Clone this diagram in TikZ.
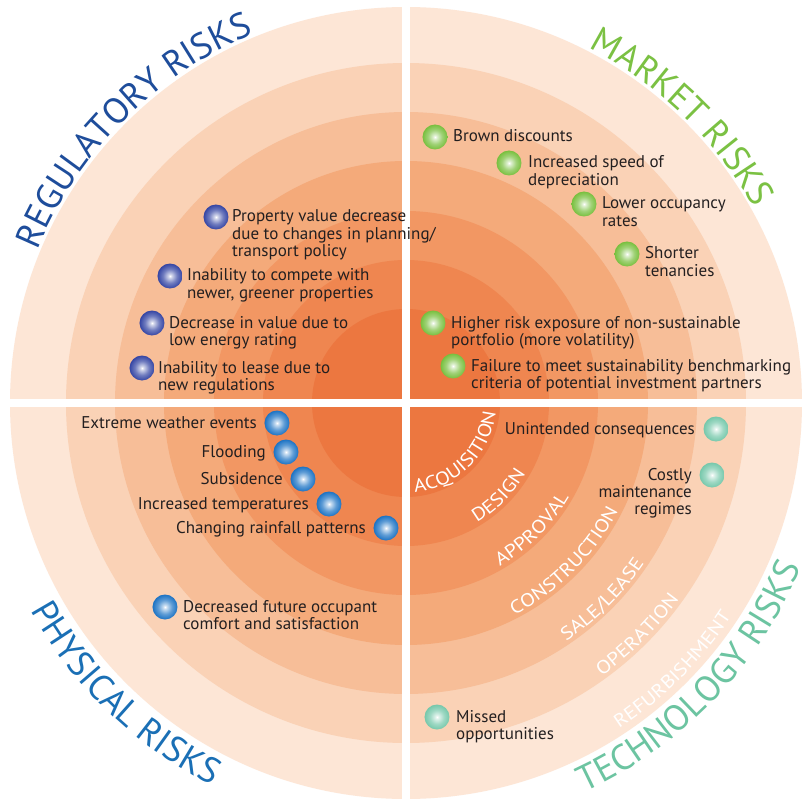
\documentclass[tikz,border=0pt]{standalone}
\usepackage{fontspec}
\setmainfont{PT Sans}
\newfontfamily\titlefont{PT Sans}
\newfontfamily\stagefont{PT Sans}[FakeStretch=1.15]
\usetikzlibrary{decorations.text}

\definecolor{ringA}{HTML}{EC7740}
\definecolor{ringB}{HTML}{EF8650}
\definecolor{ringC}{HTML}{F29763}
\definecolor{ringD}{HTML}{F4AA7A}
\definecolor{ringE}{HTML}{F7BE98}
\definecolor{ringF}{HTML}{FAD2B6}
\definecolor{ringG}{HTML}{FDE6D6}
\definecolor{regC}{HTML}{3445A4}
\definecolor{phyC}{HTML}{1C73C4}
\definecolor{mktC}{HTML}{78BF3E}
\definecolor{tecC}{HTML}{76C8AB}
\definecolor{regT}{HTML}{1E4D9B}
\definecolor{phyT}{HTML}{1A6FB5}
\definecolor{mktT}{HTML}{7BC143}
\definecolor{tecT}{HTML}{6CC4A1}
\definecolor{txtc}{HTML}{231F20}

\pgfdeclareradialshading{regball}{\pgfpoint{0bp}{0bp}}{color(0bp)=(white); color(4bp)=(regC!25!white); color(14bp)=(regC!70!white); color(25bp)=(regC); color(50bp)=(regC)}
\pgfdeclareradialshading{phyball}{\pgfpoint{0bp}{0bp}}{color(0bp)=(white); color(4bp)=(phyC!25!white); color(14bp)=(phyC!70!white); color(25bp)=(phyC); color(50bp)=(phyC)}
\pgfdeclareradialshading{mktball}{\pgfpoint{0bp}{0bp}}{color(0bp)=(white); color(4bp)=(mktC!25!white); color(14bp)=(mktC!70!white); color(25bp)=(mktC); color(50bp)=(mktC)}
\pgfdeclareradialshading{tecball}{\pgfpoint{0bp}{0bp}}{color(0bp)=(white); color(4bp)=(tecC!25!white); color(14bp)=(tecC!70!white); color(25bp)=(tecC); color(50bp)=(tecC)}

\newcommand{\mlL}[1]{\begin{tabular}[t]{@{}l@{}}#1\end{tabular}}
\newcommand{\mlR}[1]{\begin{tabular}[t]{@{}r@{}}#1\end{tabular}}

\tikzset{
  ballnode/.style={circle, minimum size=25pt, inner sep=0pt, shade, shading=#1},
  txt/.style={font=\fontsize{17}{17.4}\selectfont, text=txtc, inner sep=0pt},
  titlearc/.style 2 args={decorate, decoration={text along path, text align=center, text color=#1,
     text={|\titlefont\fontsize{36}{36}\selectfont|#2}}},
  stagearc/.style={decorate, decoration={text along path, text align=center, text color=white,
     text={|\stagefont\fontsize{18.5}{18.5}\selectfont|#1}}}
}

\begin{document}
\begin{tikzpicture}[x=1pt,y=1pt]
\useasboundingbox (-406,-398) rectangle (403,403);
\fill[white] (-406,-398) rectangle (403,403);

% rings
\fill[ringG] (0,0) circle (396);
\fill[ringF] (0,0) circle (340);
\fill[ringE] (0,0) circle (291);
\fill[ringD] (0,0) circle (242);
\fill[ringC] (0,0) circle (192);
\fill[ringB] (0,0) circle (143);
\fill[ringA] (0,0) circle (94);

% white cross
\fill[white] (-4,-400) rectangle (4,400);
\fill[white] (-400,-4) rectangle (400,4);

% titles
\path[titlearc={regT}{REGULATORY RISKS}] (175:399) arc[start angle=175, end angle=95, radius=399];
\path[titlearc={mktT}{MARKET RISKS}] (86:399) arc[start angle=86, end angle=6, radius=399];
\path[titlearc={phyT}{PHYSICAL RISKS}] (186:429) arc[start angle=186, end angle=266, radius=429];
\path[titlearc={tecT}{TECHNOLOGY RISKS}] (-84:428) arc[start angle=-84, end angle=-4, radius=428];

% stage labels
\path[stagearc={ACQUISITION}] (-135:90) arc[start angle=-135, end angle=45, radius=90];
\path[stagearc={DESIGN}] (-135:139) arc[start angle=-135, end angle=45, radius=139];
\path[stagearc={APPROVAL}] (-135:188) arc[start angle=-135, end angle=45, radius=188];
\path[stagearc={CONSTRUCTION}] (-135:238) arc[start angle=-135, end angle=45, radius=238];
\path[stagearc={SALE/LEASE}] (-135:287) arc[start angle=-135, end angle=45, radius=287];
\path[stagearc={OPERATION}] (-135:336) arc[start angle=-135, end angle=45, radius=336];
\path[stagearc={REFURBISHMENT}] (-135:389) arc[start angle=-135, end angle=45, radius=389];

% regulatory risks
\node[ballnode=regball] (r1) at (-190,186) {};
\node[txt, anchor=base west] (rt1) at (-174,181) {\mlL{Property value decrease\\due to changes in planning/\\transport policy}};
\node[ballnode=regball] (r2) at (-236,127) {};
\node[txt, anchor=base west] (rt2) at (-219,122) {\mlL{Inability to compete with\\newer, greener properties}};
\node[ballnode=regball] (r3) at (-254,80) {};
\node[txt, anchor=base west] (rt3) at (-237,75) {\mlL{Decrease in value due to\\low energy rating}};
\node[ballnode=regball] (r4) at (-264,35) {};
\node[txt, anchor=base west] (rt4) at (-248,30) {\mlL{Inability to lease due to\\new regulations}};

% market risks
\node[ballnode=mktball] (m1) at (29,266) {};
\node[txt, anchor=base west] (mt1) at (47,261) {\mlL{Brown discounts}};
\node[ballnode=mktball] (m2) at (103,240) {};
\node[txt, anchor=base west] (mt2) at (122,235) {\mlL{Increased speed of\\depreciation}};
\node[ballnode=mktball] (m3) at (178,199) {};
\node[txt, anchor=base west] (mt3) at (196,194) {\mlL{Lower occupancy\\rates}};
\node[ballnode=mktball] (m4) at (221,149) {};
\node[txt, anchor=base west] (mt4) at (239,144) {\mlL{Shorter\\tenancies}};
\node[ballnode=mktball] (m5) at (27,80) {};
\node[txt, anchor=base west] (mt5) at (45,75) {\mlL{Higher risk exposure of non-sustainable\\portfolio (more volatility)}};
\node[ballnode=mktball] (m6) at (47,37) {};
\node[txt, anchor=base west] (mt6) at (65,32) {\mlL{Failure to meet sustainability benchmarking\\criteria of potential investment partners}};

% physical risks
\node[ballnode=phyball] (p1) at (-129,-20) {};
\node[txt, anchor=base east] (pt1) at (-149,-25) {\mlR{Extreme weather events}};
\node[ballnode=phyball] (p2) at (-120,-49) {};
\node[txt, anchor=base east] (pt2) at (-140,-54) {\mlR{Flooding}};
\node[ballnode=phyball] (p3) at (-103,-76) {};
\node[txt, anchor=base east] (pt3) at (-123,-81) {\mlR{Subsidence}};
\node[ballnode=phyball] (p4) at (-77,-101) {};
\node[txt, anchor=base east] (pt4) at (-97,-106) {\mlR{Increased temperatures}};
\node[ballnode=phyball] (p5) at (-20,-125) {};
\node[txt, anchor=base east] (pt5) at (-40,-130) {\mlR{Changing rainfall patterns}};
\node[ballnode=phyball] (p6) at (-241,-204) {};
\node[txt, anchor=base west] (pt6) at (-223,-209) {\mlL{Decreased future occupant\\comfort and satisfaction}};

% technology risks
\node[ballnode=tecball] (q1) at (310,-26) {};
\node[txt, anchor=base east] (qt1) at (289,-31) {\mlR{Unintended consequences}};
\node[ballnode=tecball] (q2) at (306,-72) {};
\node[txt, anchor=base east] (qt2) at (286,-77) {\mlR{Costly\\maintenance\\regimes}};
\node[ballnode=tecball] (q3) at (31,-314) {};
\node[txt, anchor=base west] (qt3) at (50,-319) {\mlL{Missed\\opportunities}};
\end{tikzpicture}
\end{document}
